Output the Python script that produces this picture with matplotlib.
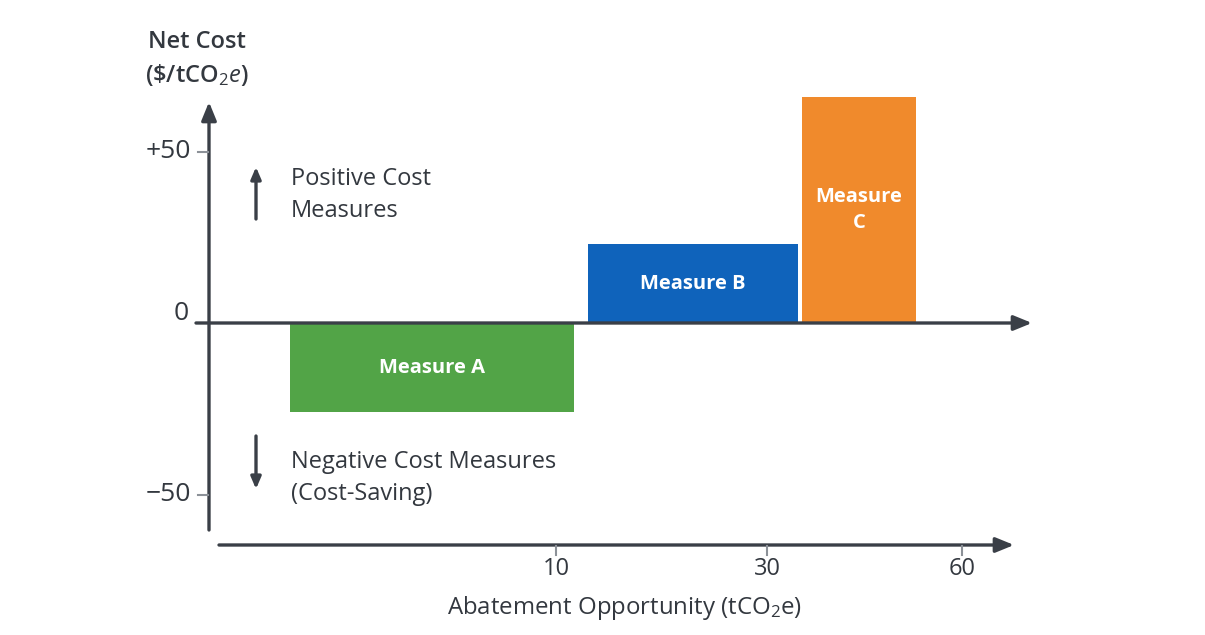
import matplotlib
matplotlib.use("Agg")
import matplotlib.pyplot as plt

# ---- data ----
measures = ["Measure A", "Measure B", "Measure C"]
bar_labels = ["Measure A", "Measure B", "Measure\nC"]
abatement_widths = [28.4, 21.0, 11.4]      # schematic widths (x units)
net_cost = [-26, 23, 66]                   # $/tCO2e
bar_colors = ["#52a447", "#0f63bb", "#f08a2c"]
gaps = [8.1, 1.4, 0.4]                     # gap before each bar
y_ticks = [50, 0, -50]
y_tick_labels = ["+50", "0", "\u221250"]
x_tick_pos = [34.7, 55.8, 75.3]
x_tick_labels = ["10", "30", "60"]

plt.rcParams["font.family"] = ["Open Sans", "DejaVu Sans"]
plt.rcParams["mathtext.fontset"] = "custom"
plt.rcParams["mathtext.rm"] = "Open Sans"
plt.rcParams["mathtext.it"] = "Open Sans:italic"
plt.rcParams["mathtext.bf"] = "Open Sans:bold"

W, H = 1205, 635
fig = plt.figure(figsize=(W / 100, H / 100), dpi=100)
ax = fig.add_axes([0, 0, 1, 1])
PX_X = 10.0
PX_Y = 3.43
X0, Y0 = 209, 323


def dx(px):
    return (px - X0) / PX_X


def dy(py):
    return (Y0 - py) / PX_Y


ax.set_xlim(dx(0), dx(W))
ax.set_ylim(dy(H), dy(0))
ax.axis("off")

AX = "#3a3f47"
TXT = "#33383f"
TICK = "#8c9198"

# bars
left = 0.0
for lab, w, c, col, g in zip(bar_labels, abatement_widths, net_cost, bar_colors, gaps):
    left += g
    ax.bar(left, c, width=w, align="edge", color=col, zorder=2)
    ax.text(left + w / 2, c / 2, lab, ha="center", va="center", color="white",
            fontsize=14.5, fontweight="bold", linespacing=1.4, zorder=3)
    left += w

arrow_kw = dict(arrowstyle="-|>,head_length=1.1,head_width=0.45", color=AX,
                lw=2.4, shrinkA=0, shrinkB=0)

# vertical axis
ax.annotate("", xy=(dx(209), dy(102)), xytext=(dx(209), dy(530)),
            arrowprops=arrow_kw, zorder=4)
# zero line axis
ax.annotate("", xy=(dx(1032), 0), xytext=(dx(196), 0),
            arrowprops=arrow_kw, zorder=4)
# lower abatement axis
ax.annotate("", xy=(dx(1014), dy(545)), xytext=(dx(219), dy(545)),
            arrowprops=arrow_kw, zorder=4)

# y ticks
for v, lab in zip(y_ticks, y_tick_labels):
    if v != 0:
        ax.plot([dx(198), dx(208)], [v, v], color=TICK, lw=1.5, zorder=4)
        ax.text(dx(191), v, lab, ha="right", va="center", fontsize=19, color=TXT)
    else:
        ax.text(dx(181), dy(313), lab, ha="center", va="center", fontsize=19, color=TXT)

# x ticks on lower axis
for p, lab in zip(x_tick_pos, x_tick_labels):
    ax.plot([p, p], [dy(546), dy(555)], color=TICK, lw=1.5, zorder=4)
    ax.text(p, dy(569), lab, ha="center", va="center", fontsize=17, color=TXT)

# axis titles
ax.text(dx(197), dy(42), "Net Cost", ha="center", va="center", fontsize=17,
        fontweight="semibold", color=TXT)
ax.text(dx(197), dy(75), r"(\$/tCO$_2e$)", ha="center", va="center", fontsize=17,
        fontweight="semibold", color=TXT)
ax.text(dx(625), dy(608), r"Abatement Opportunity (tCO$_2$e)", ha="center",
        va="center", fontsize=17.3, color=TXT)

# annotations
small_arrow = dict(arrowstyle="-|>,head_length=0.7,head_width=0.3", color=AX,
                   lw=2.4, shrinkA=0, shrinkB=0)
ax.annotate("", xy=(dx(256), dy(167)), xytext=(dx(256), dy(219)),
            arrowprops=small_arrow, zorder=4)
ax.annotate("", xy=(dx(256), dy(489)), xytext=(dx(256), dy(436)),
            arrowprops=small_arrow, zorder=4)
ax.text(dx(291), dy(195), "Positive Cost\nMeasures", ha="left", va="center",
        fontsize=17, color=TXT, linespacing=1.42)
ax.text(dx(291), dy(478), "Negative Cost Measures\n(Cost-Saving)", ha="left",
        va="center", fontsize=17, color=TXT, linespacing=1.42)

fig.savefig("out.png", dpi=100, facecolor="white")
